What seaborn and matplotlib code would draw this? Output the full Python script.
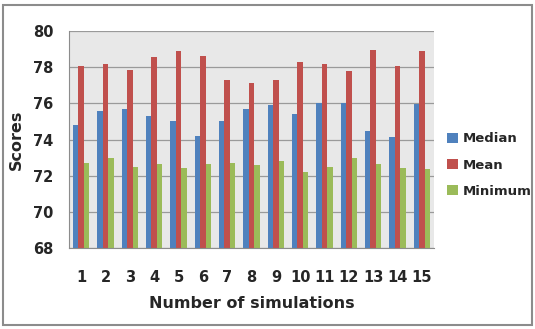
import numpy as np
import pandas as pd
import matplotlib
matplotlib.use("Agg")
import matplotlib.pyplot as plt
import seaborn as sns
from matplotlib.patches import Rectangle

# Dati
simulazioni = [str(i) for i in range(1, 16)]
median = [74.8, 75.6, 75.7, 75.3, 75.0, 74.2, 75.0, 75.7, 75.9, 75.4, 76.0, 76.0, 74.45, 74.15, 75.95]
mean = [78.05, 78.2, 77.85, 78.55, 78.9, 78.6, 77.3, 77.15, 77.3, 78.3, 78.15, 77.8, 78.95, 78.05, 78.9]
minimum = [72.7, 72.95, 72.5, 72.65, 72.45, 72.65, 72.7, 72.6, 72.8, 72.2, 72.5, 72.95, 72.65, 72.4, 72.35]

series_names = ["Median", "Mean", "Minimum"]
colori = ["#4F81BD", "#C0504D", "#9BBB59"]

df = pd.DataFrame({
    "sim": simulazioni * 3,
    "score": median + mean + minimum,
    "serie": [s for s in series_names for _ in simulazioni],
})

sns.set_style("white")
plt.rcParams['font.family'] = ['DejaVu Sans']

fig = plt.figure(figsize=(5.35, 3.29), dpi=100)
ax = fig.add_axes([69 / 535, 1 - 248 / 329, (434 - 69) / 535, (248 - 31) / 329])

sns.barplot(data=df, x="sim", y="score", hue="serie", palette=colori,
            width=0.68, ax=ax, saturation=1, edgecolor="none")

ax.set_facecolor("#E8E8E8")
ax.set_ylim(68, 80)
ax.set_yticks(np.arange(68, 81, 2))
ax.yaxis.grid(True, color="#9A9A9A", linewidth=0.9)
ax.set_axisbelow(True)
ax.set_xlim(-0.5, 14.5)

for s in ["top", "right"]:
    ax.spines[s].set_visible(False)
ax.spines["left"].set_color("#8C8C8C")
ax.spines["bottom"].set_color("#8C8C8C")

# tacche tra le categorie come in Excel
ax.set_xticks(np.arange(-0.5, 15, 1), minor=True)
ax.tick_params(axis="x", which="minor", length=5, color="#8C8C8C", width=0.9)
ax.tick_params(axis="x", which="major", length=0, pad=16, labelsize=10.5)
ax.tick_params(axis="y", length=5, color="#8C8C8C", labelsize=10.5, pad=6)
for lbl in ax.get_xticklabels() + ax.get_yticklabels():
    lbl.set_fontweight("bold")

ax.set_xlabel("Number of simulations", fontsize=11.5, fontweight="bold", labelpad=8)
ax.set_ylabel("Scores", fontsize=11.5, fontweight="bold", labelpad=7)

handles, labels = ax.get_legend_handles_labels()
ax.legend(handles, labels, loc="center left", bbox_to_anchor=(1.036, 0.382),
          borderaxespad=0, borderpad=0,
          frameon=False, handlelength=0.85, handleheight=0.85, handletextpad=0.3,
          labelspacing=1.0, prop={"weight": "bold", "size": 9.5})

# cornice esterna
fig.patches.append(Rectangle((3 / 535, 4 / 329), 529 / 535, 320 / 329,
                             transform=fig.transFigure, fill=False,
                             edgecolor="#8C8C8C", linewidth=1.5))

fig.savefig("out.png", dpi=100)
